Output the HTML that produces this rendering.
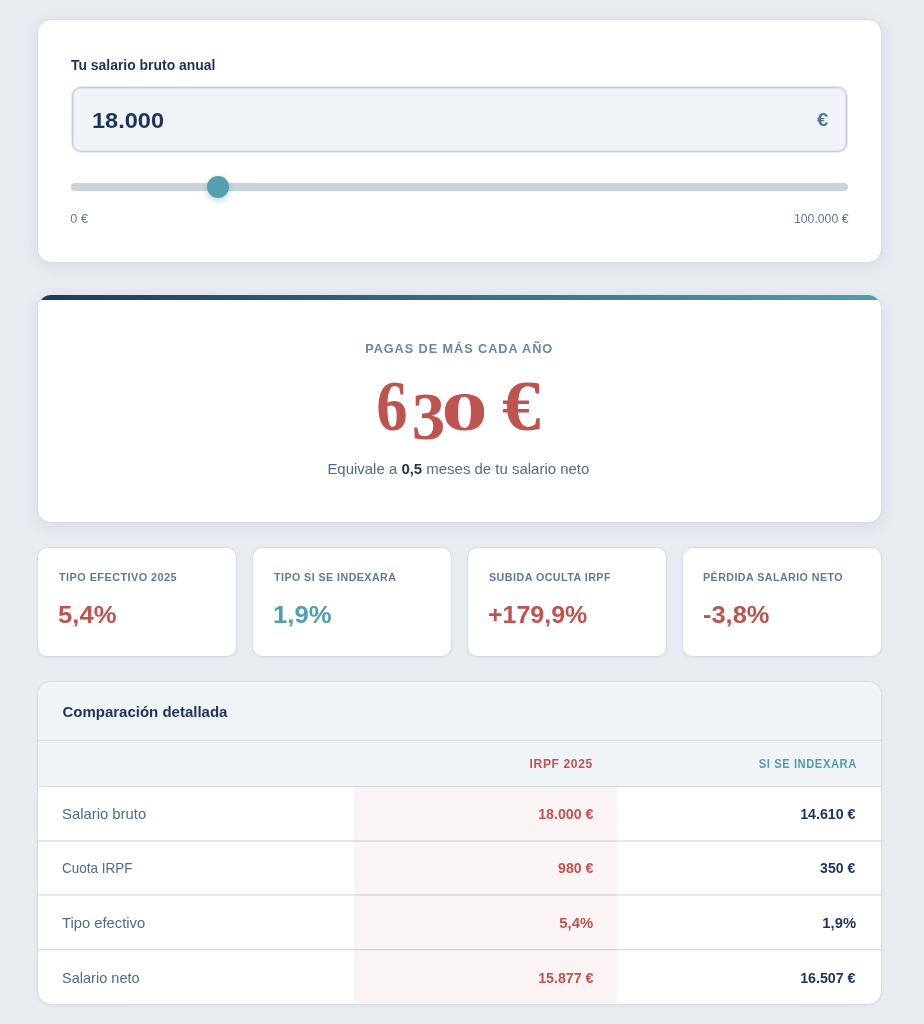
<!DOCTYPE html>
<html lang="es">
<head>
<meta charset="utf-8">
<title>Calculadora IRPF</title>
<style>
*{box-sizing:border-box;margin:0;padding:0}
html,body{width:924px;height:1024px;overflow:hidden}
body{background:#e8ecf1;font-family:"Liberation Sans",sans-serif;color:#1e3358;position:relative}
.card{position:absolute;left:37px;width:844.7px;background:#fff;border:1px solid #d5dce5;border-radius:14px;box-shadow:0 4px 16px rgba(30,51,88,.085)}
/* .x: top = text baseline */
.x{position:absolute;white-space:nowrap;line-height:1;margin-top:-.8465em}
.t{display:inline-block;white-space:nowrap}
.tl{transform-origin:0 50%}
.tr{transform-origin:100% 50%}
.tc{transform-origin:50% 50%}
.red{color:#be5350}
.teal{color:#4f9fb0}

/* card 1 */
#c1{top:19px;height:243.6px}
#lbl{left:71.2px;top:69.8px;font-size:14.5px;font-weight:700;color:#1e3358}
#lbl .t{transform:scaleX(.96)}
#inp{position:absolute;left:72px;top:87px;width:775px;height:65px;background:#f0f4f8;border:1px solid #c4cfdb;border-radius:9px;box-shadow:0 0 0 1px rgba(196,207,219,.45),inset 0 0 0 1px rgba(196,207,219,.45)}
#val{left:91.85px;top:127.8px;font-size:22.8px;font-weight:700;color:#1e3358}
#val .t{transform:scaleX(1.033)}
#eur{left:817px;top:126.2px;font-size:18.5px;font-weight:700;color:#5b7491}
#eur .t{transform:scaleX(1.087)}
#track{position:absolute;left:70.6px;top:183.2px;width:777.6px;height:7.6px;border-radius:4px;background:#c8d3dc}
#thumb{position:absolute;left:206.7px;top:175.7px;width:22.6px;height:22.6px;border-radius:50%;background:#53a0b1;box-shadow:0 2px 6px rgba(79,159,176,.45)}
#mn,#mx{top:224.1px;font-size:12.7px;color:#5f7a96}
#mn{left:70.3px}
#mx{right:75.5px}
#mx .t{transform:scaleX(.965)}

/* card 2 */
#c2{top:295px;height:227.8px;overflow:hidden;border-top:0}
#bar{position:absolute;left:-1px;top:0;right:-1px;height:4.8px;background:linear-gradient(90deg,#1e3a5f,#4f9fb0)}
#pagas{left:0;width:918.3px;text-align:center;top:354.15px;font-size:12.7px;font-weight:700;letter-spacing:.95px;color:#6b85a2}
#big{left:376px;top:366px;margin:0;font-family:"Liberation Serif",serif;font-weight:700;color:#be5350;font-size:72px;line-height:1;white-space:nowrap}
#big span{display:inline-block;line-height:1;transform-origin:0 0}
#g6{font-size:71.6px;transform:translate(0.30px,3.90px) scale(.873,1)}
#g3{font-size:66.9px;transform:translate(0.00px,12.50px) scale(1,1)}
#g0{font-size:72px;transform:translate(-3.80px,19.10px) scale(1.29,.748)}
#ge{font-size:72.7px;transform:translate(3.00px,3.90px) scale(1.063,1)}
#sub{left:0;width:917.1px;text-align:center;top:474.1px;font-size:15px;color:#516b8a}
#sub b{color:#1e3358}
#sub .t{transform:scaleX(.997)}

/* stats */
.sc{position:absolute;top:547px;width:199.8px;height:110px;background:#fff;border:1px solid #d5dce5;border-radius:10.5px;box-shadow:0 1px 3px rgba(30,51,88,.05)}
.sk{top:581.3px;font-size:11.6px;font-weight:700;letter-spacing:.5px;color:#5f7a96}
.sv{top:622.95px;font-size:24px;font-weight:700}

/* table */
#tb{top:681px;height:324px;overflow:hidden;box-shadow:0 1px 3px rgba(30,51,88,.06)}
#th0{position:absolute;left:0;right:0;top:0;height:59px;background:#f0f4f7;border-bottom:1px solid #d5dce5}
#th1{position:absolute;left:0;right:0;top:59px;height:46px;background:#f0f4f7;border-bottom:1px solid #d5dce5}
#redcol{position:absolute;left:316px;top:105px;width:263.4px;bottom:0;background:#faf4f4}
.ln{position:absolute;left:0;right:0;height:2px;background:linear-gradient(rgba(90,110,140,.17) 50%,rgba(90,110,140,.15) 50%)}
#comp{left:62.4px;top:716.5px;font-size:15px;font-weight:700;color:#1e3358}
.th{top:767.95px;font-size:12.1px;font-weight:700;letter-spacing:.6px}
.ra{left:61.65px;font-size:15px;color:#516b8a}
.rb,.rc{font-size:14.5px;font-weight:700}
.rb{right:330.7px;color:#be5350}
.rc{right:68.25px;color:#1e3358}
.r1{top:819px}.r2{top:872.7px}.r3{top:927.4px}.r4{top:982.9px}
.rb.r1{top:818px}.rc.r1{top:818px}.rb.r2,.rc.r2{top:872.7px}.rb.r3,.rc.r3{top:927.4px}.rb.r4,.rc.r4{top:981.9px}
.rb,.rc{margin-top:calc(-.8465em + .9px)}
</style>
</head>
<body>
<div class="card" id="c1"></div>
<div class="x" id="lbl"><span class="t tl">Tu salario bruto anual</span></div>
<div id="inp"></div>
<div class="x" id="val"><span class="t tl">18.000</span></div>
<div class="x" id="eur"><span class="t tl">€</span></div>
<div id="track"></div><div id="thumb"></div>
<div class="x" id="mn"><span class="t tl">0 €</span></div>
<div class="x" id="mx"><span class="t tr">100.000 €</span></div>

<div class="card" id="c2"><div id="bar"></div></div>
<div class="x" id="pagas"><span class="t tc">PAGAS DE MÁS CADA AÑO</span></div>
<div class="x" id="big"><span id="g6">6</span><span id="g3">3</span><span id="g0">0</span> <span id="ge">€</span></div>
<div class="x" id="sub"><span class="t tc">Equivale a <b>0,5</b> meses de tu salario neto</span></div>

<div class="sc" style="left:37px"></div>
<div class="sc" style="left:252.1px"></div>
<div class="sc" style="left:467.2px"></div>
<div class="sc" style="left:682.3px"></div>
<div class="x sk" style="left:59.1px"><span class="t tl" style="transform:scaleX(.935)">TIPO EFECTIVO 2025</span></div>
<div class="x sk" style="left:274px"><span class="t tl" style="transform:scaleX(.919)">TIPO SI SE INDEXARA</span></div>
<div class="x sk" style="left:488.75px"><span class="t tl" style="transform:scaleX(.924)">SUBIDA OCULTA IRPF</span></div>
<div class="x sk" style="left:703.25px"><span class="t tl" style="transform:scaleX(.919)">PÉRDIDA SALARIO NETO</span></div>
<div class="x sv red" style="left:58px"><span class="t tl" style="transform:scaleX(1.07)">5,4%</span></div>
<div class="x sv teal" style="left:273px"><span class="t tl" style="transform:scaleX(1.07)">1,9%</span></div>
<div class="x sv red" style="left:488px"><span class="t tl" style="transform:scaleX(1.04)">+179,9%</span></div>
<div class="x sv red" style="left:703px"><span class="t tl" style="transform:scaleX(1.06)">-3,8%</span></div>

<div class="card" id="tb">
  <div id="th0"></div><div id="th1"></div><div id="redcol"></div>
  <div class="ln" style="top:158px"></div>
  <div class="ln" style="top:212px"></div>
  <div class="ln" style="top:267px;background:linear-gradient(rgba(90,110,140,.24) 50%,rgba(90,110,140,.07) 50%)"></div>
</div>
<div class="x" id="comp"><span class="t tl">Comparación detallada</span></div>
<div class="x th red" style="right:331.2px"><span class="t tr">IRPF 2025</span></div>
<div class="x th teal" style="right:67.5px"><span class="t tr" style="transform:scaleX(.926)">SI SE INDEXARA</span></div>

<div class="x ra r1"><span class="t tl" style="transform:scaleX(.99)">Salario bruto</span></div>
<div class="x rb r1"><span class="t tr" style="transform:scaleX(.98)">18.000 €</span></div>
<div class="x rc r1"><span class="t tr" style="transform:scaleX(.98)">14.610 €</span></div>

<div class="x ra r2"><span class="t tl" style="transform:scaleX(.9)">Cuota IRPF</span></div>
<div class="x rb r2"><span class="t tr" style="transform:scaleX(.97)">980 €</span></div>
<div class="x rc r2"><span class="t tr" style="transform:scaleX(.97)">350 €</span></div>

<div class="x ra r3"><span class="t tl" style="transform:scaleX(.985)">Tipo efectivo</span></div>
<div class="x rb r3"><span class="t tr" style="transform:scaleX(1.02)">5,4%</span></div>
<div class="x rc r3"><span class="t tr" style="transform:scaleX(1.02)">1,9%</span></div>

<div class="x ra r4"><span class="t tl" style="transform:scaleX(.97)">Salario neto</span></div>
<div class="x rb r4"><span class="t tr" style="transform:scaleX(.98)">15.877 €</span></div>
<div class="x rc r4"><span class="t tr" style="transform:scaleX(.98)">16.507 €</span></div>
</body>
</html>
